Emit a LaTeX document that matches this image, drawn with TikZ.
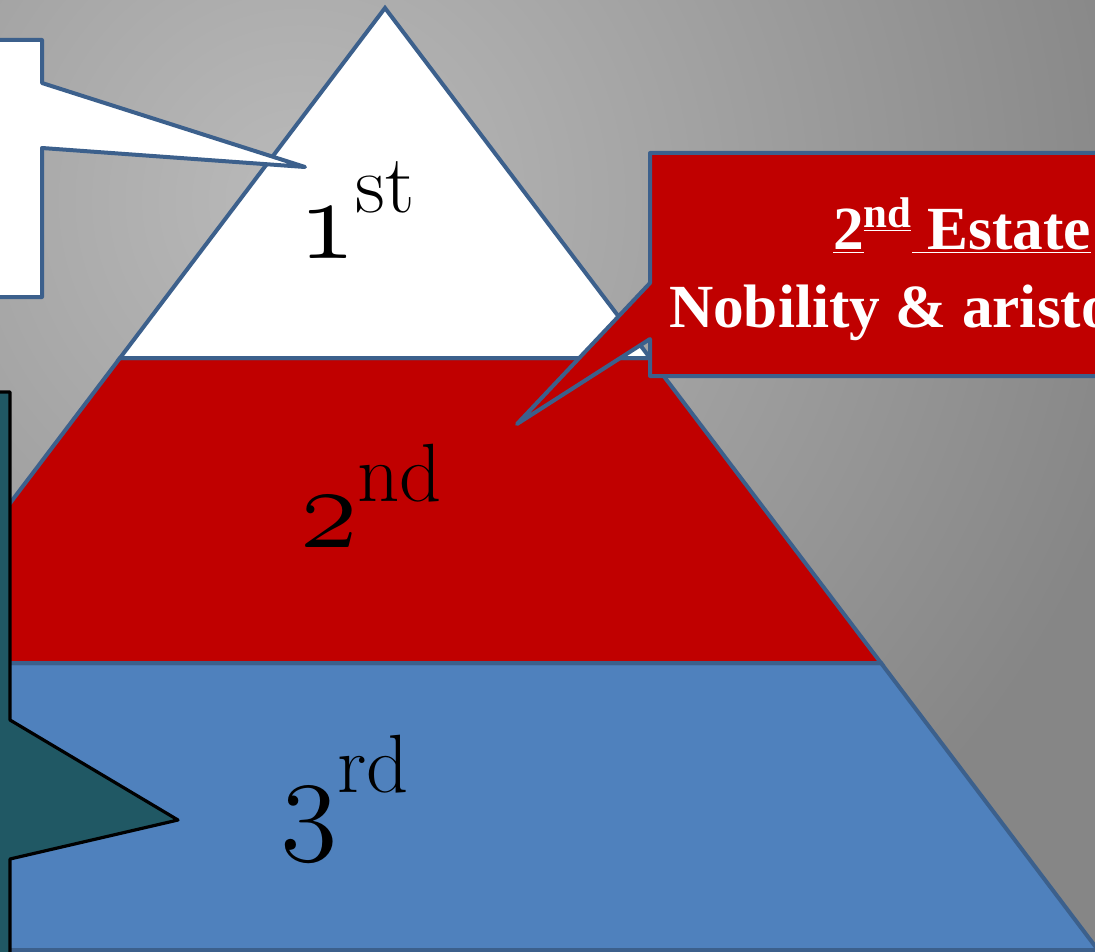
\RequirePackage{fix-cm}
\documentclass[tikz,border=0pt]{standalone}
\usepackage{fontspec}
\newfontfamily\calfont{Liberation Serif}
\newcommand{\osf}[1]{{\fontencoding{OML}\fontfamily{cmm}\fontseries{m}\fontshape{it}\fontsize{88}{96}\selectfont #1}}
\newcommand{\ordsup}[1]{{\fontsize{62}{70}\selectfont\raisebox{34pt}{#1}}}
\definecolor{bgIn}{RGB}{186,186,186}
\definecolor{bgOut}{RGB}{134,134,134}
\definecolor{edge}{RGB}{60,96,140}
\definecolor{tierred}{RGB}{192,0,0}
\definecolor{tierblue}{RGB}{79,129,189}
\definecolor{teal}{RGB}{32,88,100}
\tikzset{
  tier/.style={draw=edge, line width=3pt, line join=miter},
  callout/.style={draw=edge, line width=3pt, line join=round},
  numlabel/.style={inner sep=0pt, anchor=base west},
  redtext/.style={inner sep=0pt, anchor=base, text=white, font=\calfont\bfseries\fontsize{46}{54}\selectfont},
}
\begin{document}
\begin{tikzpicture}[x=0.75pt,y=-0.75pt]
\useasboundingbox (0,0) rectangle (1095,952);
\begin{scope}
\clip (0,0) rectangle (1095,952);
\fill[bgOut] (0,0) rectangle (1095,952);
\shade[inner color=bgIn, outer color=bgOut] (300,200) circle (650pt);
% pyramid
\coordinate (apex) at (385,8);
\coordinate (wl) at (120,358);
\coordinate (wr) at (650,358);
\coordinate (rl) at (-111,663);
\coordinate (rr) at (881,663);
\coordinate (bl) at (-328,950);
\coordinate (br) at (1098,950);
\filldraw[tier, fill=tierblue] (rl) -- (rr) -- (br) -- (bl) -- cycle;
\filldraw[tier, fill=tierred] (wl) -- (wr) -- (rr) -- (rl) -- cycle;
\filldraw[tier, fill=white] (apex) -- (wr) -- (wl) -- cycle;
\node[numlabel] (first) at (298,258) {\osf{1}\ordsup{st}};
\node[numlabel] (second) at (300,547) {\osf{2}\ordsup{nd}};
\node[numlabel] (third) at (280,838) {\osf{3}\ordsup{rd}};
% white callout
\coordinate (wtip) at (305,167);
\filldraw[callout, fill=white] (-20,40) -- (42,40) -- (42,83) -- (wtip) -- (42,148) -- (42,297) -- (-20,297) -- cycle;
% red callout
\coordinate (rtip) at (517,424);
\filldraw[callout, fill=tierred] (650,153) -- (1130,153) -- (1130,376) -- (650,376) -- (650,339) -- (rtip) -- (650,283) -- cycle;
\node[redtext] (estate) at (962,250) {\underline{2}\textsuperscript{\underline{nd}}\underline{ Estate}};
\node[redtext] (nobility) at (962,327) {Nobility \& aristocracy};
% teal callout
\coordinate (ttip) at (178,820);
\filldraw[draw=black, line width=2.4pt, line join=round, fill=teal] (-20,392) -- (10,392) -- (10,720) -- (ttip) -- (10,859) -- (10,990) -- (-20,990) -- cycle;
\end{scope}
\end{tikzpicture}
\end{document}
